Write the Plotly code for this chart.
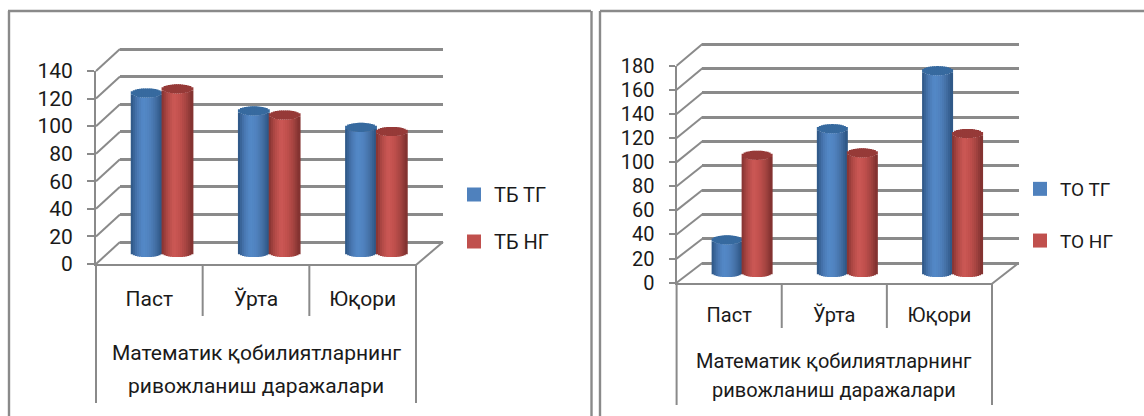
import plotly.graph_objects as go

W, H = 1144, 416
CATEGORIES = ["Паст", "Ўрта", "Юқори"]
GROUP_LINES = ["Математик қобилиятларнинг", "ривожланиш даражалари"]

LEFT_TICKS = [0, 20, 40, 60, 80, 100, 120, 140]
RIGHT_TICKS = [0, 20, 40, 60, 80, 100, 120, 140, 160, 180]

TB_TG = [116, 103, 91]
TB_NG = [119, 100, 88]
TO_TG = [27, 119, 167]
TO_NG = [97, 99, 115]

LEFT_NAMES = ["ТБ ТГ", "ТБ НГ"]
RIGHT_NAMES = ["ТО ТГ", "ТО НГ"]

BLUE = "#4f81bd"
RED = "#c0504d"
BLUE_RAMP = [(44, 84, 130), (72, 118, 176), (84, 137, 200), (80, 130, 190), (68, 112, 165), (44, 84, 130)]
RED_RAMP = [(130, 50, 48), (178, 74, 71), (204, 88, 85), (192, 80, 77), (165, 68, 65), (125, 48, 46)]
BLUE_CAP = "#376a9f"
RED_CAP = "#963a38"
GRID = "#8a8a8a"
TEXT = "#1a1a1a"
FONT = "Roboto"

px = lambda v: v / W
py = lambda v: 1 - v / H


def shade(ramp, t):
    pos = (t + 1) / 2 * (len(ramp) - 1)
    i = min(int(pos), len(ramp) - 2)
    f = pos - i
    rgb = [round(a + (b - a) * f) for a, b in zip(ramp[i], ramp[i + 1])]
    return "rgb(%d,%d,%d)" % tuple(rgb)


PANELS = [
    dict(ticks=LEFT_TICKS, s=[TB_TG, TB_NG], names=LEFT_NAMES, legend="legend", font=21, legend_font=20, gap=18,
         fx=(96, 416), fy=(264, 71), bx=(120, 443), by=(242, 49),
         cx=(108.5, 430), cy=(252.5, 60), ry=4.6, hw=15.4,
         cat_y=293, title_y=(353, 386), tick_len=7, standoff=10, divider=(265, 316, 403),
         legend_xy=(464, 175)),
    dict(ticks=RIGHT_TICKS, s=[TO_TG, TO_NG], names=RIGHT_NAMES, legend="legend2", font=20, legend_font=19, gap=24,
         fx=(676.6, 992), fy=(282.7, 65.7), bx=(702.4, 1018.6), by=(263, 44),
         cx=(689.5, 1005.2), cy=(272.5, 55), ry=4.6, hw=15,
         cat_y=310, title_y=(361, 390), tick_len=6, standoff=10, divider=(284, 328, 405),
         legend_xy=(1030, 170)),
]

STRIPS = 15
fig = go.Figure()
layout = dict(width=W, height=H, margin=dict(l=0, r=0, t=0, b=0, autoexpand=False), paper_bgcolor="white",
              plot_bgcolor="rgba(0,0,0,0)", barmode="overlay", font=dict(family=FONT, color=TEXT),
              hovermode=False)
shapes, annos = [], []


def line(x0, y0, x1, y1, w=2.0, color=GRID):
    shapes.append(dict(type="line", xref="paper", yref="paper", x0=px(x0), y0=py(y0), x1=px(x1), y1=py(y1),
                       line=dict(color=color, width=w), layer="below"))


# panel frames
line(9, 11, 9, 416, 2.4)
line(8, 11, 591, 11, 2.4)
line(591.5, 11, 591.5, 416, 2.4)
line(600, 11, 600, 416, 2.4)
line(600, 11, 1144, 11, 2.4)

for i, p in enumerate(PANELS):
    a_back, a_bars, a_front = 3 * i + 1, 3 * i + 2, 3 * i + 3
    suf = lambda n: "" if n == 1 else str(n)
    top = p["ticks"][-1]
    hidden = dict(showgrid=False, zeroline=False, showticklabels=False, ticks="", showline=False, fixedrange=True)

    # back wall: gridlines only; a little slack keeps the first and last lines drawn
    b_unit = (p["by"][0] - p["by"][1]) / top
    slack = 5
    layout["xaxis" + suf(a_back)] = dict(hidden, domain=[px(p["bx"][0]), px(p["bx"][1])], range=[0, 1],
                                         anchor="y" + suf(a_back))
    layout["yaxis" + suf(a_back)] = dict(domain=[py(p["by"][0] + slack), py(p["by"][1] - slack)],
                                         range=[-slack / b_unit, top + slack / b_unit],
                                         tickvals=p["ticks"], showticklabels=False, ticks="", showgrid=True,
                                         gridcolor=GRID, gridwidth=2.6, zeroline=False, showline=False,
                                         anchor="x" + suf(a_back), fixedrange=True)
    fig.add_trace(go.Scatter(x=[0], y=[0], mode="markers", marker=dict(opacity=0), showlegend=False,
                             xaxis="x" + suf(a_back), yaxis="y" + suf(a_back)))

    # bars axes: a range running below zero leaves room for the curved base
    unit = (p["cy"][0] - p["cy"][1]) / top
    pad = 12
    ymin, ymax = -pad / unit, top + pad / unit
    cat_w = (p["cx"][1] - p["cx"][0]) / 3
    layout["xaxis" + suf(a_bars)] = dict(hidden, domain=[px(p["cx"][0]), px(p["cx"][1])], range=[-0.5, 2.5],
                                         anchor="y" + suf(a_bars))
    layout["yaxis" + suf(a_bars)] = dict(hidden, domain=[py(p["cy"][0] + pad), py(p["cy"][1] - pad)],
                                         range=[ymin, ymax], anchor="x" + suf(a_bars))

    half = p["hw"] / cat_w
    e = p["ry"] / unit
    for s_idx, values in enumerate(p["s"]):
        ramp = BLUE_RAMP if s_idx == 0 else RED_RAMP
        cap = BLUE_CAP if s_idx == 0 else RED_CAP
        center_off = (-1 if s_idx == 0 else 1) * half
        xs, bases, heights, colors, widths = [], [], [], [], []
        for c, v in enumerate(values):
            for k in range(STRIPS):
                t = -1 + (2 * k + 1) / STRIPS
                arc = e * (1 - t * t) ** 0.5
                xs += [c + center_off + t * half] * 2
                bases += [-arc, v - arc]
                heights += [v, 2 * arc]
                colors += [shade(ramp, t), cap]
                widths += [2 * half / STRIPS * 1.5] * 2
        fig.add_trace(go.Bar(x=xs, y=heights, base=bases, width=widths,
                             marker=dict(color=colors, line=dict(width=0)), showlegend=False,
                             xaxis="x" + suf(a_bars), yaxis="y" + suf(a_bars)))

    # front axes: numbers and category names
    layout["xaxis" + suf(a_front)] = dict(domain=[px(p["fx"][0]), px(p["fx"][1])], range=[-0.5, 2.5],
                                          tickvals=[0, 1, 2], ticktext=CATEGORIES, ticks="", showgrid=False,
                                          zeroline=False, showline=True, linecolor=GRID, linewidth=2.4,
                                          ticklabelstandoff=int(p["cat_y"] - p["fy"][0] - 14),
                                          tickfont=dict(size=p["font"], color=TEXT, family=FONT),
                                          anchor="y" + suf(a_front), fixedrange=True)
    layout["yaxis" + suf(a_front)] = dict(domain=[py(p["fy"][0]), py(p["fy"][1])], range=[0, top],
                                          tickvals=p["ticks"], ticks="outside", ticklen=p["tick_len"], tickwidth=2,
                                          tickcolor=GRID, showgrid=False, zeroline=False, showline=True,
                                          linecolor=GRID, linewidth=2, ticklabelstandoff=p["standoff"],
                                          tickfont=dict(size=p["font"], color=TEXT, family=FONT),
                                          anchor="x" + suf(a_front), fixedrange=True)
    fig.add_trace(go.Scatter(x=[0], y=[0], mode="markers", marker=dict(opacity=0), showlegend=False,
                             xaxis="x" + suf(a_front), yaxis="y" + suf(a_front)))

    # side wall and floor
    f_unit = (p["fy"][0] - p["fy"][1]) / top
    for v in p["ticks"]:
        line(p["fx"][0], p["fy"][0] - v * f_unit, p["bx"][0], p["by"][0] - v * b_unit)
    line(p["fx"][1], p["fy"][0] + 1, p["bx"][1], p["by"][0])

    # category dividers
    d0, d1, d2 = p["divider"]
    for pos in [-0.5, 0.5, 1.5, 2.5]:
        x = p["fx"][0] + (pos + 0.5) / 3 * (p["fx"][1] - p["fx"][0])
        line(x, d0, x, d2 if pos in (-0.5, 2.5) else d1)

    # two-line group label
    mid = px((p["fx"][0] + p["fx"][1]) / 2)
    for text, y in zip(GROUP_LINES, p["title_y"]):
        annos.append(dict(text=text, x=mid, y=py(y), xref="paper", yref="paper", showarrow=False,
                          xanchor="center", yanchor="middle", font=dict(size=p["font"], color=TEXT, family=FONT)))

    # legend
    for s_idx, name in enumerate(p["names"]):
        fig.add_trace(go.Scatter(x=[None], y=[None], mode="markers", name=name, legend=p["legend"],
                                 legendgroup=p["legend"] + name,
                                 marker=dict(symbol="square", size=14, color=BLUE if s_idx == 0 else RED),
                                 xaxis="x" + suf(a_bars), yaxis="y" + suf(a_bars)))
    layout[p["legend"]] = dict(x=px(p["legend_xy"][0]), y=py(p["legend_xy"][1]), xanchor="left", yanchor="top",
                               tracegroupgap=p["gap"], bgcolor="rgba(0,0,0,0)", indentation=-10,
                               font=dict(size=p["legend_font"], color=TEXT, family=FONT), itemclick=False,
                               itemdoubleclick=False)

layout["shapes"] = shapes
layout["annotations"] = annos
fig.update_layout(**layout)
fig.write_html("out.html", post_script="document.body.style.margin='0';", config={"displayModeBar": False})
